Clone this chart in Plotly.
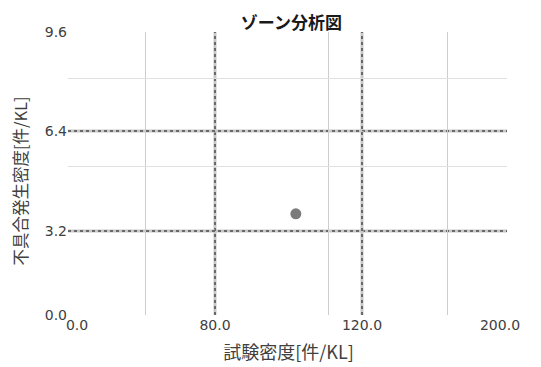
import numpy as np
import plotly.graph_objects as go

# ---- data ----
zone_x = [0.0, 80.0, 120.0, 200.0]          # x zone boundaries (試験密度)
zone_y = [0.0, 3.2, 6.4, 9.6]               # y zone boundaries (不具合発生密度)
x_tick_text = ["0.0", "80.0", "120.0", "200.0"]
y_tick_text = ["0.0", "3.2", "6.4", "9.6"]
test_density = [102.0]                      # 試験密度[件/KL]
defect_density = [3.75]                     # 不具合発生密度[件/KL]
x_minor_grid = [[42.0], [111.0], [167.0]]   # light grid per x zone
y_minor_grid = [[], [5.25], [8.1]]          # light grid per y zone

# ---- layout geometry (each zone gets its own linear axis) ----
col_w = [147, 147, 145]
row_h = [84, 100, 99]  # bottom to top
cx = np.cumsum([0] + col_w) / sum(col_w)
cy = np.cumsum([0] + row_h) / sum(row_h)

TICK_FONT = dict(family="DejaVu Sans, Verdana", size=14, color="#404040")
JP = "Noto Sans CJK JP"

fig = go.Figure()

def ax_name(kind, i):
    return kind if i == 0 else f"{kind}{i + 1}"

# dummy traces so that every zone cell is a subplot (grid spans full area)
for i in range(3):
    for j in range(3):
        fig.add_trace(go.Scatter(x=[], y=[], xaxis=ax_name("x", i), yaxis=ax_name("y", j),
                                 showlegend=False, hoverinfo="skip"))

# the measured point, plotted on the axes of the zone it belongs to
for xv, yv in zip(test_density, defect_density):
    i = int(np.clip(np.searchsorted(zone_x, xv) - 1, 0, 2))
    j = int(np.clip(np.searchsorted(zone_y, yv) - 1, 0, 2))
    fig.add_trace(go.Scatter(x=[xv], y=[yv], mode="markers",
                             xaxis=ax_name("x", i), yaxis=ax_name("y", j),
                             marker=dict(size=11, color="#7b7b7b", line=dict(width=0)),
                             showlegend=False))

layout = {}
x_label_idx = [[0], [1, 2], [3]]
x_shift = [9, 0, -7]
for i in range(3):
    idx = x_label_idx[i]
    layout[ax_name("xaxis", i)] = dict(
        domain=[cx[i], cx[i + 1]], range=[zone_x[i], zone_x[i + 1]], anchor="y",
        tickmode="array", tickvals=[zone_x[k] for k in idx], ticktext=[x_tick_text[k] for k in idx],
        ticklabelshift=x_shift[i], tickfont=TICK_FONT, ticks="", automargin=False,
        showgrid=False, zeroline=False, showline=False, fixedrange=True,
        minor=dict(tickmode="array", tickvals=x_minor_grid[i], showgrid=True,
                   gridcolor="#cdcdcd", gridwidth=1, griddash="solid", ticks=""),
    )
y_label_idx = [[0], [1, 2], [3]]
for j in range(3):
    idx = y_label_idx[j]
    layout[ax_name("yaxis", j)] = dict(
        domain=[cy[j], cy[j + 1]], range=[zone_y[j], zone_y[j + 1]], anchor="x",
        tickmode="array", tickvals=[zone_y[k] for k in idx], ticktext=[y_tick_text[k] for k in idx],
        tickfont=TICK_FONT, ticks="", automargin=False,
        showgrid=False, zeroline=False, showline=False, fixedrange=True,
        minor=dict(tickmode="array", tickvals=y_minor_grid[j], showgrid=True,
                   gridcolor="#e0e0e0", gridwidth=1, griddash="solid", ticks=""),
    )

layout["xaxis2"]["title"] = dict(text="試験密度[件/KL]", font=dict(family=JP, size=18, color="#404040"),
                                 standoff=14)
layout["yaxis2"]["title"] = dict(text="不具合発生密度[件/KL]", font=dict(family=JP, size=16.5, color="#404040"),
                                 standoff=15)

# zone boundary lines: drawn from both neighbouring zone axes so each half is kept
shapes = []
for k in (1, 2):
    for a in (k - 1, k):
        for color, width, dash in (("#c8c8c8", 3, "solid"), ("#696969", 2, "dot")):
            shapes.append(dict(type="line", xref=ax_name("x", a), yref="paper",
                               x0=zone_x[k], x1=zone_x[k], y0=0, y1=1,
                               line=dict(color=color, width=width, dash=dash), layer="below"))
            shapes.append(dict(type="line", xref="paper", yref=ax_name("y", a),
                               x0=0, x1=1, y0=zone_y[k], y1=zone_y[k],
                               line=dict(color=color, width=width, dash=dash), layer="below"))

# the page body has an 8px margin, so the figure is sized to fit the window
fig.update_layout(
    **layout,
    shapes=shapes,
    width=533, height=359,
    margin=dict(l=60, r=34, t=24, b=52, autoexpand=False),
    paper_bgcolor="white", plot_bgcolor="white",
    title=dict(text="<b>ゾーン分析図</b>", xref="paper", x=0.509, xanchor="center",
               y=0.957, yanchor="middle",
               font=dict(family=JP, size=17, color="#1a1a1a")),
    showlegend=False,
)

fig.write_html("out.html")
